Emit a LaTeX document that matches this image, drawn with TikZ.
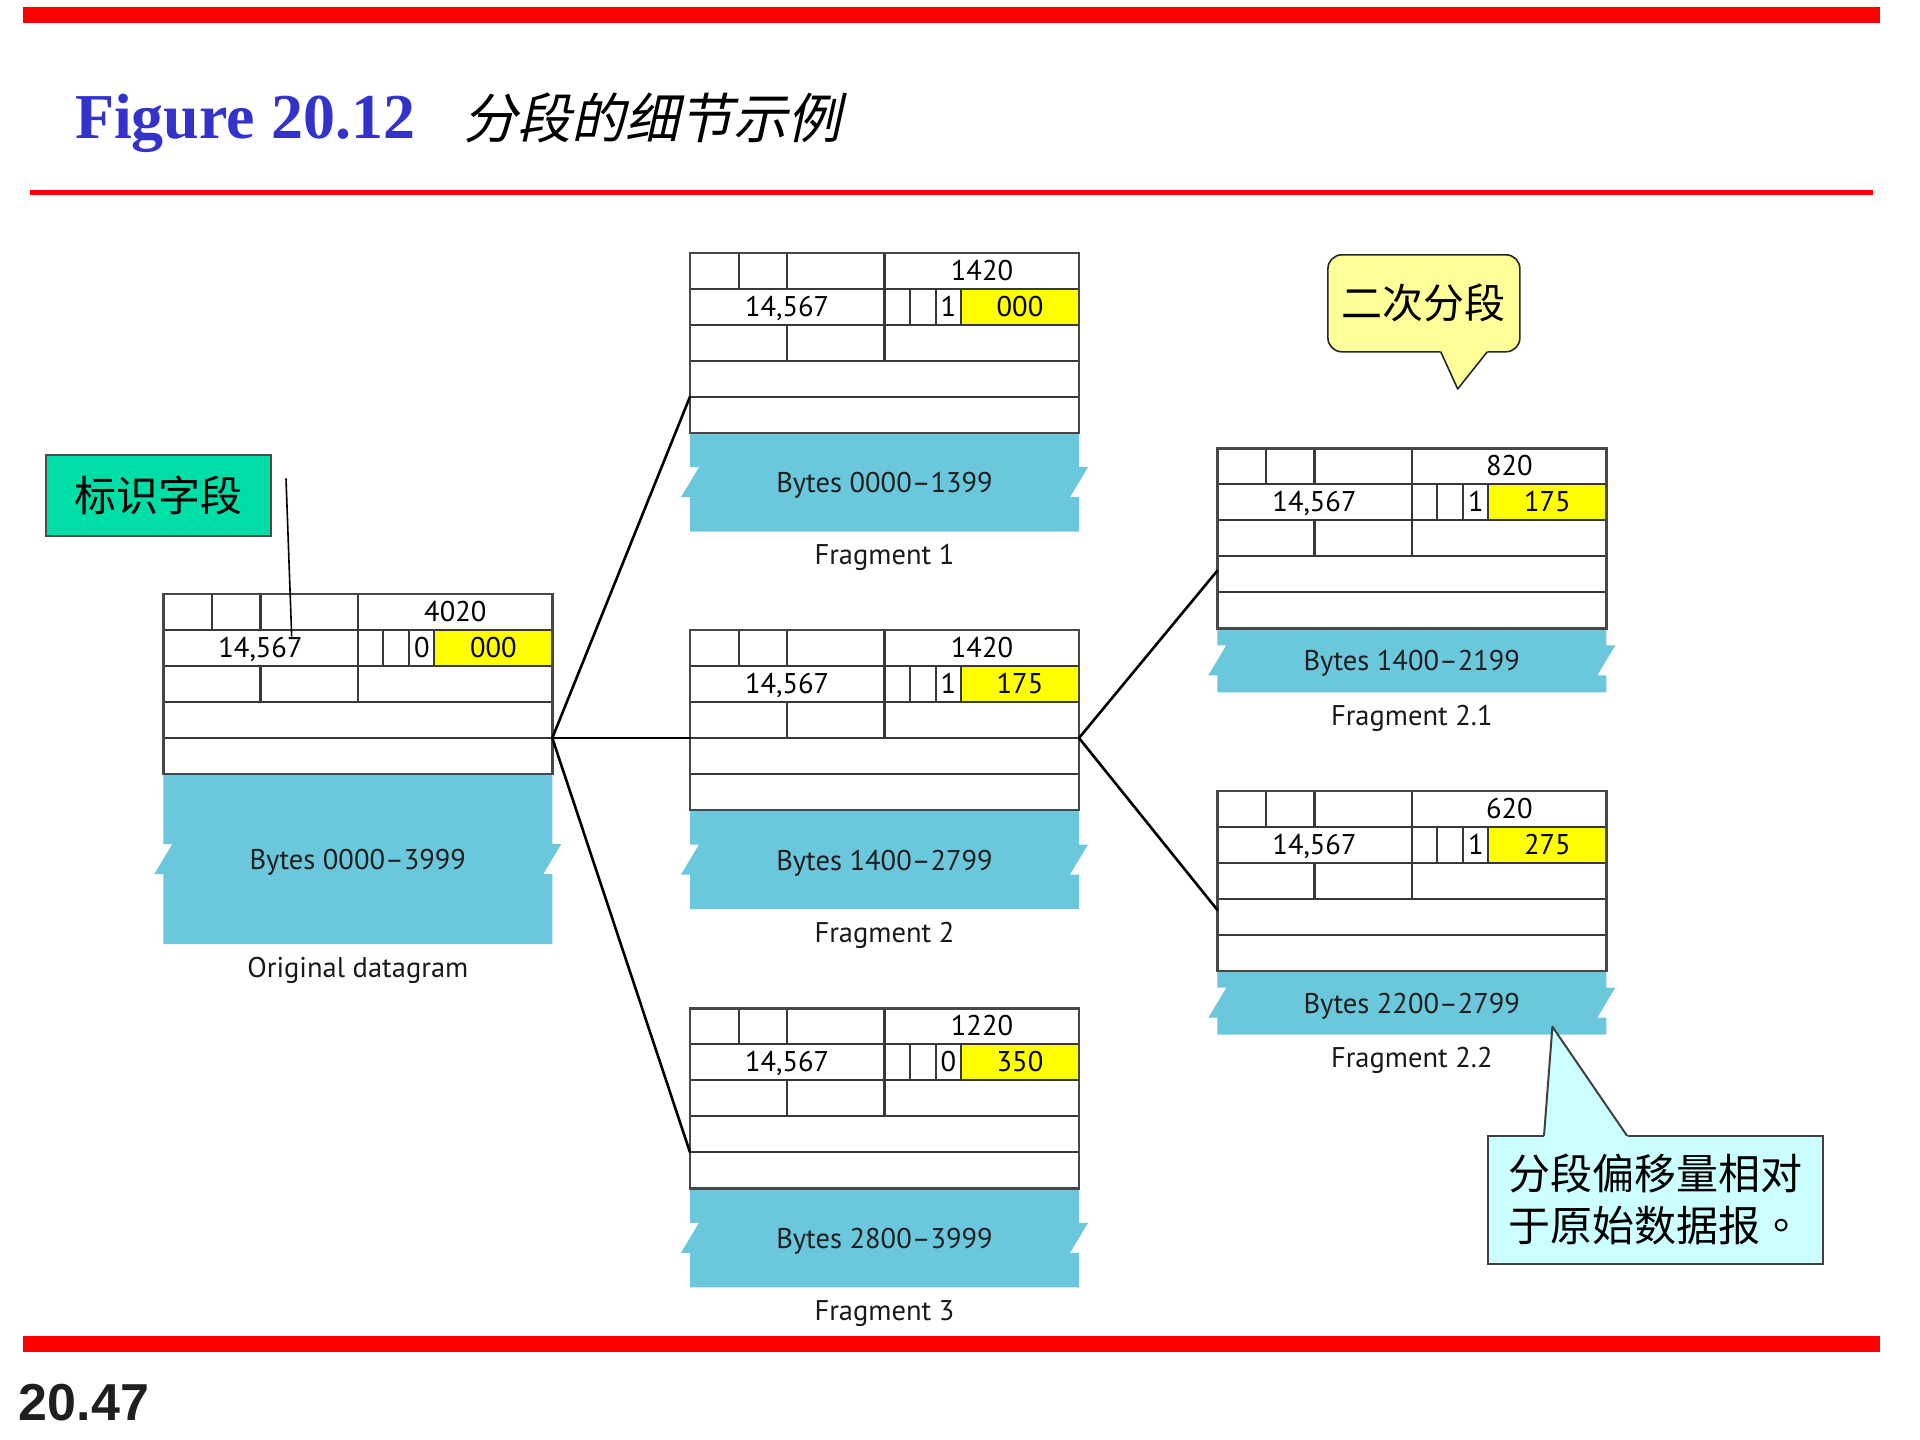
\documentclass[tikz,border=0pt]{standalone}
\usepackage{fontspec}
\setmainfont{PT Sans}
\newfontfamily\titlefont{Liberation Serif}
\newfontfamily\pagefont{Liberation Sans}
\newfontfamily\cjk{Noto Sans CJK SC}
\newfontfamily\cjktc{Noto Sans CJK TC}
\newfontfamily\cjkslant[FakeSlant=0.22]{Noto Sans CJK SC}
\usetikzlibrary{calc}

\definecolor{payloadblue}{RGB}{107,199,219}
\definecolor{offsetyellow}{RGB}{255,255,0}
\definecolor{tagteal}{RGB}{0,222,168}
\definecolor{notecyan}{RGB}{204,255,255}
\definecolor{bubbleyellow}{RGB}{255,255,153}
\definecolor{barred}{RGB}{255,0,0}
\definecolor{titleblue}{RGB}{51,51,204}

\tikzset{
  every node/.style={inner sep=0pt, outer sep=0pt},
  hdrline/.style={draw=black!78, line width=2.2pt},
  hdrbox/.style={draw=black!72, line width=2.4pt, minimum width=389pt, minimum height=180pt},
  payloadfill/.style={fill=payloadblue},
  fieldtxt/.style={anchor=base, font=\fontsize{28.5}{30}\selectfont, text=black},
  bytestxt/.style={anchor=base, font=\fontsize{28.5}{30}\selectfont, text=black!88},
  captxt/.style={anchor=base, font=\fontsize{28.5}{30}\selectfont, text=black!90},
  link/.style={draw=black, line width=2.6pt, line cap=round},
  pointer/.style={draw=black, line width=1.6pt},
  tagbox/.style={draw=black!70, line width=2pt, fill=tagteal, minimum width=225pt, minimum height=81pt,
    font=\cjk\fontsize{42}{42}\selectfont},
  bubble/.style={draw=black!85, line width=1.6pt, fill=bubbleyellow, rounded corners=14pt,
    minimum width=192pt, minimum height=97pt, font=\cjk\fontsize{41}{41}\selectfont},
  notebox/.style={draw=black!75, line width=2pt, fill=notecyan, minimum width=335pt, minimum height=128pt,
    align=left, font=\cjk\fontsize{42}{52}\selectfont},
}

% An IP datagram: header grid (5 rows of 36) over a torn payload strip.
% #1 name, #2 left, #3 top, #4 total length, #5 MF bit, #6 offset,
% #7 payload height, #8 payload label, #9 caption
\newcommand\datagram[9]{%
  \begin{scope}[shift={(#2,#3)}]
    \pgfmathsetmacro\pbot{180+#7}
    \pgfmathsetmacro\pmid{180+#7/2}
    \pgfmathsetmacro\pup{180+#7/2-15}
    \pgfmathsetmacro\pdn{180+#7/2+15}
    \fill[payloadfill] (0,180) -- (389,180) -- (389,\pup) -- (398,\pup) -- (380,\pdn)
      -- (389,\pdn) -- (389,\pbot) -- (0,\pbot) -- (0,\pdn) -- (-9,\pdn) -- (9,\pup)
      -- (0,\pup) -- cycle;
    \fill[offsetyellow] (271,36) rectangle (389,72);
    \draw[hdrline] (0,36) -- (389,36) (0,72) -- (389,72) (0,108) -- (389,108) (0,144) -- (389,144)
      (48.6,0) -- (48.6,36) (97.2,0) -- (97.2,36) (194.5,0) -- (194.5,108)
      (220,36) -- (220,72) (246,36) -- (246,72) (271,36) -- (271,72)
      (97.2,72) -- (97.2,108);
    \node[hdrbox] (#1) at (194.5,90) {};
    \foreach \k in {0,...,5} {
      \coordinate (#1-L\k) at (0,{36*\k});
      \coordinate (#1-R\k) at (389,{36*\k});
    }
    \node[fieldtxt] (#1-len) at (292,27.6) {#4};
    \node[fieldtxt] (#1-id) at (97.2,63.6) {14,567};
    \node[fieldtxt] (#1-mf) at (258.5,63.6) {#5};
    \node[fieldtxt] (#1-off) at (330,63.6) {#6};
    \node[bytestxt] (#1-data) at (194.5,{\pmid+10.5}) {#8};
    \node[captxt] (#1-cap) at (194.5,{\pbot+33}) {#9};
  \end{scope}}

\begin{document}
\begin{tikzpicture}[x=1pt, y=-1pt]
\useasboundingbox (0,0) rectangle (1920,1440);

% page rules
\fill[barred] (23,7) rectangle (1880,23);
\fill[barred] (30,189.5) rectangle (1873,194.5);
\fill[barred] (23,1336) rectangle (1880,1352);

% heading
\node[anchor=base west, text=titleblue, font=\titlefont\bfseries\fontsize{64}{64}\selectfont]
  (figtitle) at (75,138) {Figure 20.12};
\node[anchor=base west, font=\cjkslant\fontsize{54}{54}\selectfont]
  (figsubtitle) at (463,138.5) {分段的细节示例};
\node[anchor=base west, text=black!88, font=\pagefont\bfseries\fontsize{52}{52}\selectfont]
  (pageno) at (19,1420) {20.47};

% datagrams
\datagram{orig}{163.3}{594}{4020}{0}{000}{170}{Bytes 0000–3999}{Original datagram}
\datagram{f1}{690}{252.7}{1420}{1}{000}{99}{Bytes 0000–1399}{Fragment 1}
\datagram{f2}{690}{630}{1420}{1}{175}{99}{Bytes 1400–2799}{Fragment 2}
\datagram{f3}{690}{1008.3}{1220}{0}{350}{99}{Bytes 2800–3999}{Fragment 3}
\datagram{f21}{1217.3}{448.3}{820}{1}{175}{64}{Bytes 1400–2199}{Fragment 2.1}
\datagram{f22}{1217.3}{790.7}{620}{1}{275}{64}{Bytes 2200–2799}{Fragment 2.2}

% fragmentation links
\draw[link] (orig-R4) -- (f1-L4);
\draw[link] (orig-R4) -- (f2-L3);
\draw[link] (orig-R4) -- (f3-L4);
\draw[link] (f2-R3) -- ($(f21-L3)!0.4!(f21-L4)$);
\draw[link] (f2-R3) -- ($(f22-L3)!0.31!(f22-L4)$);

% identification tag
\node[tagbox] (idtag) at (158.2,495.5) {标识字段};
\coordinate (idtag-pt) at (286,478.3);
\coordinate (idfield) at (291.7,636.7);
\draw[pointer] (idtag-pt) -- (idfield);

% second fragmentation bubble
\node[bubble] (second) at (1423.9,303.3) {二次分段};
\coordinate (second-tip) at (1457.7,389);
\fill[bubbleyellow] (1439.9,350) -- (1488.7,350) -- (second-tip) -- cycle;
\draw[black!85, line width=1.6pt, line join=round] (1440.7,351.7) -- (second-tip) -- (1487.3,351.7);

% offset note
\node[notebox] (offnote) at (1655.6,1199.9) {分段偏移量相对\\于原始数据报{\cjktc 。}};
\coordinate (offnote-tip) at (1552.4,1026.7);
\fill[notecyan] (1543.9,1137.5) -- (offnote-tip) -- (1628.2,1137.5) -- cycle;
\draw[black!75, line width=2pt, line join=round] (1544,1135.7) -- (offnote-tip) -- (1627,1135.7);

\end{tikzpicture}
\end{document}
